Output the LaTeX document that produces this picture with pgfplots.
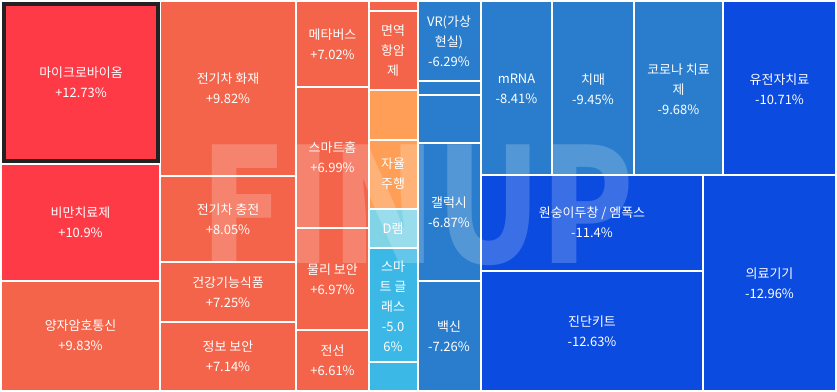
\documentclass[border=0pt]{standalone}
\usepackage{pgfplots}
\pgfplotsset{compat=1.18}
\usepackage{graphicx}
\usepackage{fontspec}
\setmainfont{Noto Sans CJK KR}
\definecolor{cred}{HTML}{FF3A47}
\definecolor{corg}{HTML}{F4644A}
\definecolor{clor}{HTML}{FF9F57}
\definecolor{clcy}{HTML}{80D4E6}
\definecolor{ccy}{HTML}{3CB8E6}
\definecolor{cblu}{HTML}{2A7DCC}
\definecolor{cdbl}{HTML}{0B4BE0}
\definecolor{cbrd}{HTML}{222222}
\newcommand{\cell}[5]{\addplot[fill=#5,draw=white,line width=2bp] coordinates {(#1,#2) (#3,#2) (#3,#4) (#1,#4)} --cycle;}
\newcommand{\lab}[3]{\node[align=center,text=white,inner sep=0pt,font=\fontsize{13}{20}\selectfont] at (axis cs:#1,#2) {#3};}
\begin{document}
\begin{tikzpicture}
\begin{axis}[
  hide axis, scale only axis, width=837bp, height=392bp,
  xmin=0, xmax=837, ymin=0, ymax=392, y dir=reverse, clip=false]
\addplot[fill=white,draw=none] coordinates {(0,0) (837,0) (837,392) (0,392)} --cycle;
% column 1
\cell{1}{1}{160}{164}{cred}
\cell{1}{164}{160}{280.5}{cred}
\cell{1}{280.5}{160}{391}{corg}
% column 2
\cell{160}{1}{296}{175.5}{corg}
\cell{160}{175.5}{296}{262}{corg}
\cell{160}{262}{296}{322}{corg}
\cell{160}{322}{296}{391}{corg}
% column 3
\cell{296}{1}{369}{87}{corg}
\cell{296}{87}{369}{228}{corg}
\cell{296}{228}{369}{329.5}{corg}
\cell{296}{329.5}{369}{391}{corg}
% column 4
\cell{369}{1}{417.5}{11}{corg}
\cell{369}{11}{417.5}{90}{corg}
\cell{369}{90}{417.5}{139.5}{clor}
\cell{369}{139.5}{417.5}{209}{clor}
\cell{369}{209}{417.5}{248}{clcy}
\cell{369}{248}{417.5}{362}{ccy}
\cell{369}{362}{417.5}{391}{ccy}
% column 5
\cell{417.5}{1}{481}{81}{cblu}
\cell{417.5}{81}{481}{95}{cblu}
\cell{417.5}{95}{481}{142.5}{cblu}
\cell{417.5}{142.5}{481}{280.5}{cblu}
\cell{417.5}{280.5}{481}{391}{cblu}
% right block
\cell{481}{1}{552}{174.5}{cblu}
\cell{552}{1}{634}{174.5}{cblu}
\cell{634}{1}{723}{174.5}{cblu}
\cell{723}{1}{836}{174.5}{cdbl}
\cell{481}{174.5}{703}{270.5}{cdbl}
\cell{481}{270.5}{703}{391}{cdbl}
\cell{703}{174.5}{836}{391}{cdbl}
% highlight border
\addplot[draw=cbrd,line width=4bp] coordinates {(4,4) (158,4) (158,161) (4,161)} --cycle;
% watermark
\node[anchor=base,text=white,text opacity=0.2,inner sep=0pt,font=\fontsize{160}{160}\selectfont\bfseries] at (axis cs:418,263) {\scalebox{0.86}[1]{FINUP}};
% labels
\lab{81}{82.5}{마이크로바이옴\\+12.73\%}
\lab{80.5}{222}{비만치료제\\+10.9\%}
\lab{80.5}{335.5}{양자암호통신\\+9.83\%}
\lab{228}{88.5}{전기차 화재\\+9.82\%}
\lab{228}{219}{전기차 충전\\+8.05\%}
\lab{228}{292}{건강기능식품\\+7.25\%}
\lab{228}{356.5}{정보 보안\\+7.14\%}
\lab{332.5}{44.5}{메타버스\\+7.02\%}
\lab{332.5}{157.5}{스마트홈\\+6.99\%}
\lab{332.5}{279}{물리 보안\\+6.97\%}
\lab{332.5}{360}{전선\\+6.61\%}
\lab{393}{50.5}{면역\\항암\\제}
\lab{393}{174}{자율\\주행}
\lab{393}{229}{D램}
\lab{393}{306}{스마\\트 글\\래스\\-5.0\\6\%}
\lab{449}{41.5}{VR(가상\\현실)\\-6.29\%}
\lab{449}{212}{갤럭시\\-6.87\%}
\lab{449}{336}{백신\\-7.26\%}
\lab{516.5}{89}{mRNA\\-8.41\%}
\lab{593}{89}{치매\\-9.45\%}
\lab{678.5}{89}{코로나 치료\\제\\-9.68\%}
\lab{779.5}{89}{유전자치료\\-10.71\%}
\lab{592}{222.5}{원숭이두창 / 엠폭스\\-11.4\%}
\lab{592}{331}{진단키트\\-12.63\%}
\lab{769.5}{283}{의료기기\\-12.96\%}
\end{axis}
\end{tikzpicture}
\end{document}
